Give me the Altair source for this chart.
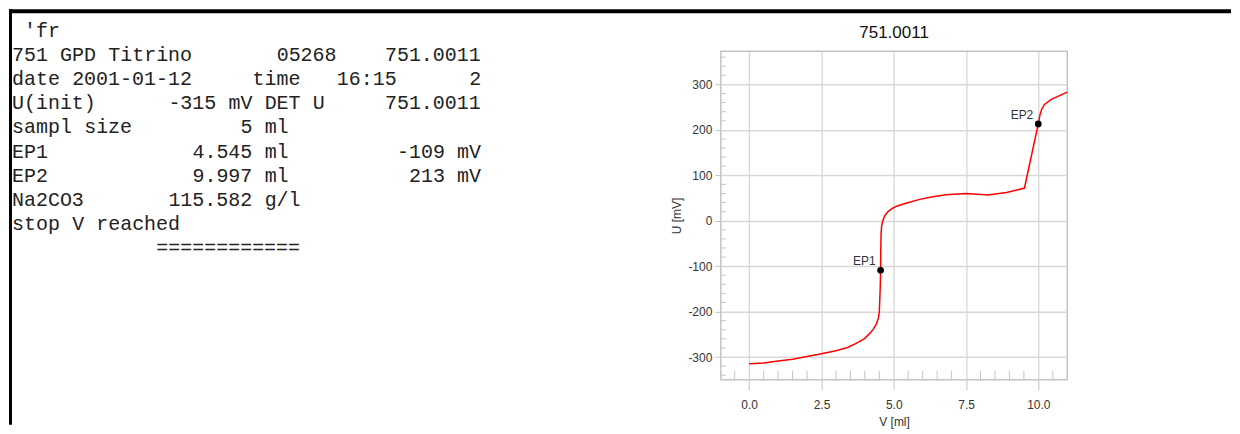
import re
import altair as alt
import pandas as pd

# ---------------- data ----------------
report_lines = [
    " 'fr",
    "751 GPD Titrino       05268    751.0011",
    "date 2001-01-12     time   16:15      2",
    "U(init)      -315 mV DET U     751.0011",
    "sampl size         5 ml",
    "EP1            4.545 ml         -109 mV",
    "EP2            9.997 ml          213 mV",
    "Na2CO3       115.582 g/l",
    "stop V reached",
    "            ============",
]

v_ml = [0.0, 0.5, 1.0, 1.5, 2.0, 2.5, 3.0, 3.4, 3.7, 4.0, 4.17, 4.3, 4.4, 4.47, 4.5,
        4.52, 4.535, 4.545, 4.55, 4.56, 4.58, 4.62, 4.69, 4.8, 4.95, 5.1, 5.45, 5.9,
        6.35, 6.8, 7.5, 8.0, 8.25, 8.9, 9.52, 9.997, 10.06, 10.12, 10.21, 10.45, 10.75, 11.0]
u_mV = [-315, -313, -309, -305, -299, -293, -286, -279, -270, -259, -248, -238, -227, -214, -200,
        -168, -140, -109, -70, -30, -12, 0, 11, 20, 27, 32, 39, 47,
        53, 57, 60, 58, 56.5, 62, 72, 213, 234, 246, 256, 267, 276, 283]

ep_labels = ["EP1", "EP2"]
ep_v = [4.545, 9.997]
ep_u = [-109, 213]

x_ticks = [0.0, 2.5, 5.0, 7.5, 10.0]
y_ticks = [-300, -200, -100, 0, 100, 200, 300]
x_minor = [-0.5, 0.5, 1.0, 1.5, 2.0, 3.0, 3.5, 4.0, 4.5, 5.5, 6.0, 6.5, 7.0,
           8.0, 8.5, 9.0, 9.5, 10.5]
y_minor = [-340, -320, -280, -260, -240, -220, -180, -160, -140, -120, -80, -60, -40, -20,
           20, 40, 60, 80, 120, 140, 160, 180, 220, 240, 260, 280, 320, 340, 360]

chart_title = "751.0011"
x_title = "V [ml]"
y_title = "U [mV]"

# ---------------- style ----------------
SANS = "Liberation Sans, Arial, sans-serif"
MONO = "Liberation Mono, Courier New, monospace"
PW, PH = 347, 329
LEFT_W, GAP = 600, 113
GRID_X = "#cccccc"
GRID_Y = "#d8d8d8"
TICK = "#c4c4c4"
LABEL = "#333333"

xs = alt.Scale(domain=[-0.98, 11.0], nice=False, zero=False)
ys = alt.Scale(domain=[-350, 373], nice=False, zero=False)

curve = pd.DataFrame({"V": v_ml, "U": u_mV})
eps = pd.DataFrame({"V": ep_v, "U": ep_u, "label": ep_labels})
xm = pd.DataFrame({"V": x_minor})
ym = pd.DataFrame({"U": y_minor})

x_axis = alt.Axis(values=x_ticks, format=".1f", title=x_title, grid=True, gridColor=GRID_X,
                  gridWidth=1, domain=False, tickSize=10, tickColor=TICK, labelFont=SANS,
                  labelFontSize=12, labelColor=LABEL, labelPadding=10, labelFlush=False,
                  titleFont=SANS, titleFontSize=12, titleFontWeight="normal",
                  titleColor=LABEL, titlePadding=6)
y_axis = alt.Axis(values=y_ticks, title=y_title, grid=True, gridColor=GRID_Y, gridWidth=1.5,
                  domain=False, tickSize=6, tickColor=TICK, labelFont=SANS, labelFontSize=12,
                  labelExpr="toString(datum.value)",
                  labelColor=LABEL, labelPadding=3, titleFont=SANS, titleFontSize=12,
                  titleFontWeight="normal", titleColor=LABEL, titlePadding=4)

line = alt.Chart(curve).mark_line(color="#ff0000", strokeWidth=1.5).encode(
    x=alt.X("V:Q", scale=xs, axis=x_axis),
    y=alt.Y("U:Q", scale=ys, axis=y_axis),
)
xminor = alt.Chart(xm).mark_rule(color=TICK, strokeWidth=1).encode(
    x=alt.X("V:Q", scale=xs), y=alt.value(PH - 9), y2=alt.value(PH)
)
yminor = alt.Chart(ym).mark_rule(color=TICK, strokeWidth=1).encode(
    y=alt.Y("U:Q", scale=ys), x=alt.value(0), x2=alt.value(5)
)
points = alt.Chart(eps).mark_circle(size=45, color="black", opacity=1).encode(
    x=alt.X("V:Q", scale=xs), y=alt.Y("U:Q", scale=ys)
)
labels = alt.Chart(eps).mark_text(align="right", baseline="middle", dx=-5, dy=-9,
                                  font=SANS, fontSize=12, color=LABEL).encode(
    x=alt.X("V:Q", scale=xs), y=alt.Y("U:Q", scale=ys), text="label:N"
)

right = alt.layer(yminor, xminor, line, points, labels).properties(
    width=PW, height=PH,
    title=alt.TitleParams(text=chart_title, font=SANS, fontSize=17, fontWeight="normal",
                          color="#111111", anchor="middle", frame="group",
                          baseline="alphabetic", offset=-4),
    view=alt.ViewBackground(stroke=TICK, strokeWidth=1.5),
)

# ---------------- left text panel ----------------
rows = []
for i, txt in enumerate(report_lines):
    for m in re.finditer(r"\S+", txt):
        rows.append({"line": i, "col": m.start(), "word": m.group()})
words = pd.DataFrame(rows)

CW, X0, LH, Y0 = 12.05, 3, 24.25, -14.75
text_layer = alt.Chart(words).mark_text(align="left", baseline="alphabetic", font=MONO,
                                        fontSize=20, color="#222222").encode(
    x=alt.X("col:Q", scale=alt.Scale(domain=[0, 39], range=[X0, X0 + 39 * CW]), axis=None),
    y=alt.Y("line:Q", scale=alt.Scale(domain=[0, 9], range=[Y0, Y0 + 9 * LH]), axis=None),
    text="word:N",
)
top_bar = alt.Chart(alt.Data(values=[{"edge": "top"}])).mark_rect(color="black").encode(
    x=alt.value(0), x2=alt.value(1224), y=alt.value(-42), y2=alt.value(-38)
)
left_bar = alt.Chart(alt.Data(values=[{"edge": "left"}])).mark_rect(color="black").encode(
    x=alt.value(0), x2=alt.value(3), y=alt.value(-42), y2=alt.value(374)
)
left = alt.layer(top_bar, left_bar, text_layer).properties(
    width=LEFT_W, height=PH, view=alt.ViewBackground(stroke="transparent")
)

chart = alt.hconcat(left, right, spacing=GAP, bounds="flush").properties(
    padding=0
).configure(background="white")

chart.save("out.html", embed_options={"renderer": "svg", "actions": False})
